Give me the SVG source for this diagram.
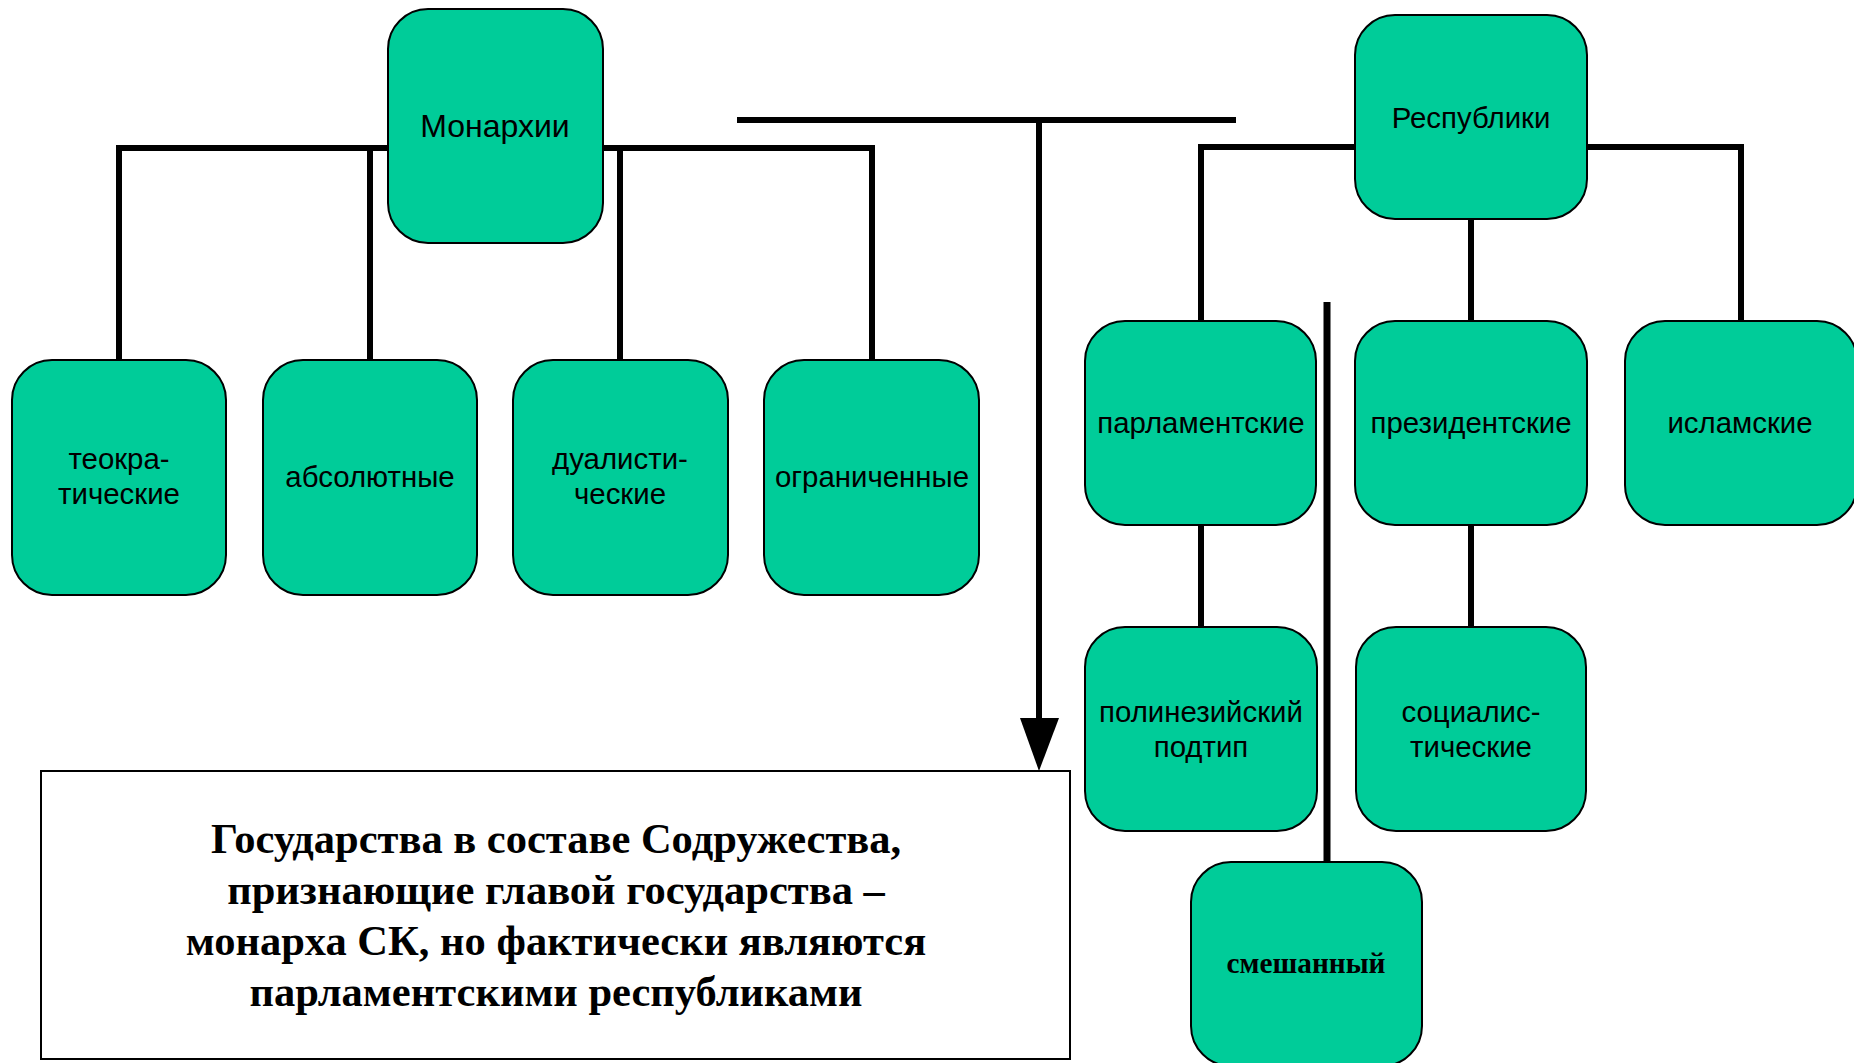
<svg xmlns="http://www.w3.org/2000/svg" width="1854" height="1063" viewBox="0 0 1854 1063">
<style>
.box{fill:#00CC99;stroke:#000;stroke-width:2}
.ln{stroke:#000;stroke-width:6;fill:none}
.t{font-family:"Liberation Sans",Arial,sans-serif;font-size:29.4px;fill:#000;text-anchor:middle}
.tb{font-family:"Liberation Serif","Times New Roman",serif;font-weight:bold;fill:#000;text-anchor:middle}
.big{font-size:42.5px}
</style>
<rect width="1854" height="1063" fill="#fff"/>
<g id="connectors">
<polyline class="ln" points="119,360 119,148 872,148 872,360"/>
<line class="ln" x1="370" y1="148" x2="370" y2="360"/>
<line class="ln" x1="620" y1="148" x2="620" y2="360"/>
<polyline class="ln" points="1201,321 1201,147 1741,147 1741,321"/>
<line class="ln" x1="1471" y1="219" x2="1471" y2="321"/>
<line class="ln" x1="1201" y1="525" x2="1201" y2="627"/>
<line class="ln" x1="1471" y1="525" x2="1471" y2="627"/>
<line class="ln" x1="737" y1="120" x2="1236" y2="120"/>
<line class="ln" x1="1039" y1="120" x2="1039" y2="720"/>
<polygon points="1020,718 1059,718 1039,771" fill="#000"/>
<line class="ln" style="stroke-width:7" x1="1327" y1="302" x2="1327" y2="862"/>
</g>
<g id="monarchies"><rect class="box" x="388" y="9" width="215" height="234" rx="40"/><text class="t" style="font-size:32px" x="495" y="137">Монархии</text></g>
<g id="theocratic"><rect class="box" x="12" y="360" width="214" height="235" rx="40"/><text class="t" x="119" y="469">теокра-</text><text class="t" x="119" y="504">тические</text></g>
<g id="absolute"><rect class="box" x="263" y="360" width="214" height="235" rx="40"/><text class="t" x="370" y="487">абсолютные</text></g>
<g id="dualistic"><rect class="box" x="513" y="360" width="215" height="235" rx="40"/><text class="t" x="620" y="469">дуалисти-</text><text class="t" x="620" y="504">ческие</text></g>
<g id="limited"><rect class="box" x="764" y="360" width="215" height="235" rx="40"/><text class="t" x="872" y="487">ограниченные</text></g>
<g id="republics"><rect class="box" x="1355" y="15" width="232" height="204" rx="40"/><text class="t" x="1471" y="128">Республики</text></g>
<g id="parliamentary"><rect class="box" x="1085" y="321" width="231" height="204" rx="40"/><text class="t" x="1201" y="433">парламентские</text></g>
<g id="presidential"><rect class="box" x="1355" y="321" width="232" height="204" rx="40"/><text class="t" x="1471" y="433">президентские</text></g>
<g id="islamic"><rect class="box" x="1625" y="321" width="232" height="204" rx="40"/><text class="t" x="1740" y="433">исламские</text></g>
<g id="polynesian"><rect class="box" x="1085" y="627" width="232" height="204" rx="40"/><text class="t" x="1201" y="722">полинезийский</text><text class="t" x="1201" y="757">подтип</text></g>
<g id="socialist"><rect class="box" x="1356" y="627" width="230" height="204" rx="40"/><text class="t" x="1471" y="722">социалис-</text><text class="t" x="1471" y="757">тические</text></g>
<g id="mixed"><rect class="box" x="1191" y="862" width="231" height="204" rx="40"/><text class="tb" x="1306" y="973" style="font-size:29.3px">смешанный</text></g>
<g id="commonwealth"><rect x="41" y="771" width="1029" height="288" fill="#fff" stroke="#000" stroke-width="2"/>
<text class="tb big" x="556" y="853">Государства в составе Содружества,</text>
<text class="tb big" x="556" y="904">признающие главой государства –</text>
<text class="tb big" x="556" y="955">монарха СК, но фактически являются</text>
<text class="tb big" x="556" y="1006">парламентскими республиками</text>
</g>
</svg>
